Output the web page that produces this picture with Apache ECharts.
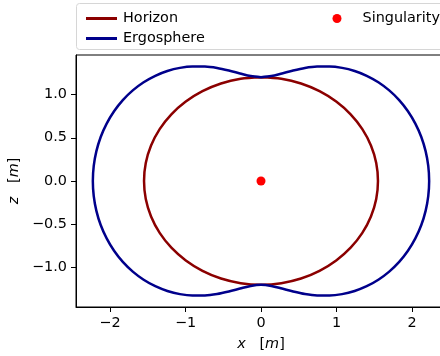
<!DOCTYPE html>
<html>
<head>
<meta charset="utf-8">
<script src="https://cdn.jsdelivr.net/npm/echarts@6/dist/echarts.min.js"></script>
<style>
    html,body{margin:0;padding:0;background:#fff;}
    #chart{width:440px;height:356px;}
</style>
</head>
<body>
<div id="chart"></div>
<script>
// points, [x, z]
const horizonPts = [
    [0, 1.2], [0.269, 1.182], [0.530, 1.128], [0.775, 1.039], [0.996, 0.919], [1.187, 0.771],
    [1.342, 0.600], [1.456, 0.410], [1.526, 0.208], [1.549, 0], [1.526, -0.208], [1.456, -0.410],
    [1.342, -0.600], [1.187, -0.771], [0.996, -0.919], [0.775, -1.039], [0.530, -1.128], [0.269, -1.182],
    [0, -1.2], [-0.269, -1.182], [-0.530, -1.128], [-0.775, -1.039], [-0.996, -0.919], [-1.187, -0.771],
    [-1.342, -0.600], [-1.456, -0.410], [-1.526, -0.208], [-1.549, 0], [-1.526, 0.208], [-1.456, 0.410],
    [-1.342, 0.600], [-1.187, 0.771], [-0.996, 0.919], [-0.775, 1.039], [-0.530, 1.128], [-0.269, 1.182],
    [0, 1.2]
];
const ergospherePts = [
    [0, 1.200], [0.136, 1.213], [0.278, 1.244], [0.426, 1.278], [0.582, 1.307], [0.743, 1.323],
    [0.908, 1.324], [1.074, 1.308], [1.240, 1.272], [1.400, 1.217], [1.554, 1.142], [1.698, 1.048],
    [1.830, 0.936], [1.946, 0.807], [2.044, 0.664], [2.123, 0.509], [2.180, 0.345], [2.215, 0.174],
    [2.227, 0],
    [2.215, -0.174], [2.180, -0.345], [2.123, -0.509], [2.044, -0.664], [1.946, -0.807], [1.830, -0.936],
    [1.698, -1.048], [1.554, -1.142], [1.400, -1.217], [1.240, -1.272], [1.074, -1.308], [0.908, -1.324],
    [0.743, -1.323], [0.582, -1.307], [0.426, -1.278], [0.278, -1.244], [0.136, -1.213], [0, -1.200],
    [-0.136, -1.213], [-0.278, -1.244], [-0.426, -1.278], [-0.582, -1.307], [-0.743, -1.323], [-0.908, -1.324],
    [-1.074, -1.308], [-1.240, -1.272], [-1.400, -1.217], [-1.554, -1.142], [-1.698, -1.048], [-1.830, -0.936],
    [-1.946, -0.807], [-2.044, -0.664], [-2.123, -0.509], [-2.180, -0.345], [-2.215, -0.174], [-2.227, 0],
    [-2.215, 0.174], [-2.180, 0.345], [-2.123, 0.509], [-2.044, 0.664], [-1.946, 0.807], [-1.830, 0.936],
    [-1.698, 1.048], [-1.554, 1.142], [-1.400, 1.217], [-1.240, 1.272], [-1.074, 1.308], [-0.908, 1.324],
    [-0.743, 1.323], [-0.582, 1.307], [-0.426, 1.278], [-0.278, 1.244], [-0.136, 1.213], [0, 1.200]
];
const singularityPts = [[0, 0]];
const xTicks = [-2, -1, 0, 1, 2];
const zTicks = [-1.0, -0.5, 0.0, 0.5, 1.0];

const font = 'DejaVu Sans';
const fs = 14.4;
const minus = s => String(s).replace('-', '\u2212');

const chart = echarts.init(document.getElementById('chart'));
chart.setOption({
    animation: false,
    textStyle: {fontFamily: font},
    grid: {
        left: 76, top: 55, width: 370, height: 252,
        show: true, borderColor: '#000', borderWidth: 1,
        containLabel: false,
        outerBoundsMode: 'none'
    },
    graphic: [{
        type: 'rect',
        z: 0,
        shape: {x: 76.5, y: 3.5, width: 380, height: 46, r: 3},
        style: {fill: 'none', stroke: '#d6d6d6', lineWidth: 1}
    }],
    legend: [{
        data: ['Horizon', 'Ergosphere'],
        orient: 'vertical',
        left: 81, top: 6,
        itemWidth: 31, itemHeight: 3,
        itemGap: 5,
        icon: 'rect',
        textStyle: {fontFamily: font, fontSize: fs, color: '#000', padding: [0, 0, 0, 1], lineHeight: 15}
    }, {
        data: ['Singularity'],
        left: 327.5, top: 6,
        itemWidth: 9, itemHeight: 9,
        icon: 'circle',
        textStyle: {fontFamily: font, fontSize: fs, color: '#000', padding: [0, 0, 0, 16], lineHeight: 15}
    }],
    xAxis: {
        type: 'value',
        min: -2.45, max: 2.45,
        name: '{i|x}   [{i|m}]',
        nameLocation: 'middle',
        nameGap: 30,
        nameTextStyle: {
            fontFamily: font, fontSize: fs, color: '#000',
            rich: {i: {fontFamily: font, fontSize: fs, fontStyle: 'italic', color: '#000'}}
        },
        splitLine: {show: false},
        axisLine: {show: true, onZero: false, lineStyle: {color: '#000', width: 1}},
        axisTick: {show: true, customValues: xTicks, length: 5, lineStyle: {color: '#000'}},
        axisLabel: {
            customValues: xTicks,
            margin: 9,
            fontFamily: font, fontSize: fs, color: '#000',
            formatter: v => minus(v)
        }
    },
    yAxis: {
        type: 'value',
        min: -1.457, max: 1.457,
        name: '{i|z}   [{i|m}]',
        nameLocation: 'middle',
        nameGap: 46,
        nameTextStyle: {
            fontFamily: font, fontSize: fs, color: '#000',
            rich: {i: {fontFamily: font, fontSize: fs, fontStyle: 'italic', color: '#000'}}
        },
        splitLine: {show: false},
        axisLine: {show: true, onZero: false, lineStyle: {color: '#000', width: 1}},
        axisTick: {show: true, customValues: zTicks, length: 5, lineStyle: {color: '#000'}},
        axisLabel: {
            customValues: zTicks,
            margin: 9,
            fontFamily: font, fontSize: fs, color: '#000',
            formatter: v => minus(v.toFixed(1))
        }
    },
    series: [{
        name: 'Horizon',
        type: 'line',
        data: horizonPts,
        showSymbol: false,
        symbol: 'none',
        smooth: 0.3,
        color: '#8b0000',
        lineStyle: {width: 2.5, color: '#8b0000'}
    }, {
        name: 'Ergosphere',
        type: 'line',
        data: ergospherePts,
        showSymbol: false,
        symbol: 'none',
        smooth: 0.3,
        color: '#00008b',
        lineStyle: {width: 2.5, color: '#00008b'}
    }, {
        name: 'Singularity',
        type: 'scatter',
        data: singularityPts,
        symbol: 'circle',
        symbolSize: 9,
        itemStyle: {color: '#ff0000', opacity: 1}
    }]
});
</script>
</body>
</html>
